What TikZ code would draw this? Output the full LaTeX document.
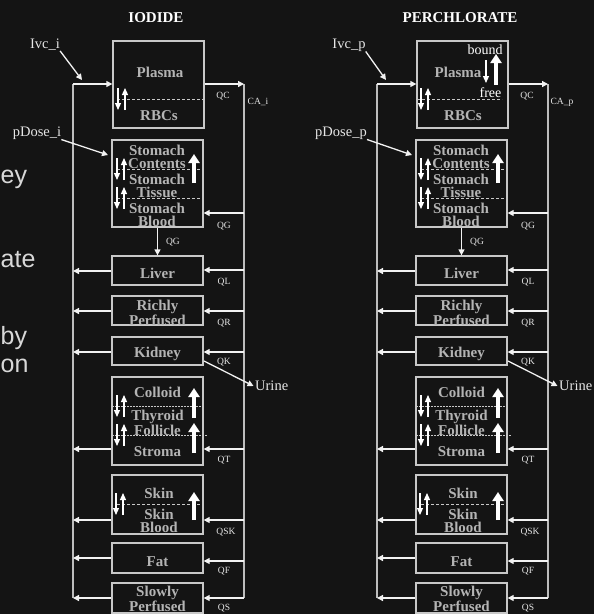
\documentclass[tikz,border=0pt]{standalone}
\usepackage{fontspec}
\setmainfont{Liberation Serif}
\newfontfamily\slidefont{Liberation Sans}
\usetikzlibrary{arrows.meta,calc}
\definecolor{bg}{HTML}{141414}
\definecolor{boxtxt}{HTML}{B4B4B4}
\definecolor{boxline}{HTML}{C8C8C8}
\definecolor{wire}{HTML}{F2F2F2}
\definecolor{busc}{HTML}{BDBDBD}
\definecolor{lbl}{HTML}{E6E6E6}
\definecolor{fragc}{HTML}{D8D8D8}

\newcommand\udpair[3]{%
  \draw[smallarr] (#1,#2) -- (#1,#3);
  \draw[smallarr] (#1+7,#3) -- (#1+7,#2);}

\newcommand\lrflow[4]{% #1 prefix, #2 node, #3 left y, #4 right y
  \coordinate (#1#2L) at (73,#3);
  \coordinate (#1#2R) at (244,#4);
  \draw[flow] (#1#2.west |- #1#2L) -- (#1#2L);
  \draw[flow] (#1#2R) -- (#1#2.east |- #1#2R);}

\newcommand\pbpkside[3]{% #1 prefix, #2 suffix, #3 title
  \node[ttl] (#1title) at (156,18) {#3};
  \coordinate (#1Ltop) at (73,84);
  \coordinate (#1Rtop) at (244,84);
  \coordinate (#1Lbot) at (73,598);
  \coordinate (#1Rbot) at (244,598);
  \draw[busline] (#1Ltop) -- (#1Lbot);
  \draw[busline] (#1Rtop) -- (#1Rbot);
  % boxes
  \node[organ,minimum height=87pt] (#1plasma) at (158.5,84.5) {};
  \node[organ,minimum height=87pt] (#1stomach) at (157.5,183.5) {};
  \node[organ,minimum height=29pt] (#1liver) at (157.5,270.5) {};
  \node[organ,minimum height=29pt] (#1rich) at (157.5,310.5) {};
  \node[organ,minimum height=28pt] (#1kidney) at (157.5,351) {};
  \node[organ,minimum height=88pt] (#1thyroid) at (157.5,421) {};
  \node[organ,minimum height=59pt] (#1skin) at (157.5,504.5) {};
  \node[organ,minimum height=30pt] (#1fat) at (157.5,558) {};
  \node[organ,minimum height=30pt] (#1slow) at (157.5,598) {};
  % box texts
  \node[otext] (#1rbc) at (159,116) {RBCs};
  \node[otext] (#1stc) at (157,157) {Stomach\\Contents};
  \node[otext] (#1stt) at (157,186) {Stomach\\Tissue};
  \node[otext] (#1stb) at (157,215) {Stomach\\Blood};
  \node[otext] (#1livt) at (157.5,273) {Liver};
  \node[otext] (#1richt) at (157.5,313) {Richly\\Perfused};
  \node[otext] (#1kidt) at (157.5,354) {Kidney};
  \node[otext] (#1colt) at (157.5,392) {Colloid};
  \node[otext] (#1thyt) at (157.5,423) {Thyroid\\Follicle};
  \node[otext] (#1strt) at (157.5,452) {Stroma};
  \node[otext] (#1skint) at (159,493) {Skin};
  \node[otext] (#1skbt) at (159,521) {Skin\\Blood};
  \node[otext] (#1fatt) at (157.5,562) {Fat};
  \node[otext] (#1slowt) at (157.5,598.5) {Slowly\\Perfused};
  % dashed separators
  \draw[sep] (117,169) -- (202,169);
  \draw[sep] (117,198) -- (202,198);
  \draw[sep,dash pattern=on 1.5pt off 1.5pt] (112,406) -- (203,406);
  \draw[sep,dash pattern=on 1.5pt off 1.5pt] (112,435) -- (208,435);
  \draw[sep] (117,504) -- (201,504);
  % exchange arrows
  \udpair{117}{158}{180}
  \udpair{117}{187}{209}
  \udpair{117}{395}{417}
  \udpair{117}{424}{446}
  \udpair{116}{493}{515}
  \draw[bigup] (194,183) -- (194,154);
  \draw[bigup] (194,418) -- (194,388);
  \draw[bigup] (194,453) -- (194,423);
  \draw[bigup] (194,520) -- (194,492);
  % flows
  \draw[flow] (#1Ltop) -- (#1plasma.west |- #1Ltop);
  \draw[flow] (#1plasma.east |- #1Rtop) -- (#1Rtop);
  \coordinate (#1stR) at (244,213);
  \draw[flow] (#1stR) -- (#1stomach.east |- #1stR);
  \draw[flow] (#1stomach.south) -- (#1liver.north);
  \lrflow{#1}{liver}{271}{270}
  \lrflow{#1}{rich}{311}{311}
  \lrflow{#1}{kidney}{352}{352}
  \lrflow{#1}{thyroid}{449}{449}
  \lrflow{#1}{skin}{520}{520}
  \lrflow{#1}{fat}{558}{561}
  \lrflow{#1}{slow}{598}{598}
  % urine
  \coordinate (#1kout) at (204,361);
  \node[inlab,anchor=west,inner sep=1.5pt] (#1urine) at (253.5,386) {Urine};
  \draw[flow] (#1kout) -- (#1urine.west);
  % flow labels
  \node[qlab] (#1qc) at (223,96) {QC};
  \node[qlab] (#1ca) at (258,102) {CA\_#2};
  \node[qlab] (#1qg) at (224,226) {QG};
  \node[qlab] (#1qgv) at (173,242) {QG};
  \node[qlab] (#1ql) at (224,282) {QL};
  \node[qlab] (#1qr) at (224,323) {QR};
  \node[qlab] (#1qk) at (224,362) {QK};
  \node[qlab] (#1qt) at (224,460) {QT};
  \node[qlab] (#1qsk) at (226,532) {QSK};
  \node[qlab] (#1qf) at (224,571) {QF};
  \node[qlab] (#1qs) at (224,608) {QS};
  % inputs
  \node[inlab] (#1ivc) at (45,45) {Ivc\_#2};
  \coordinate (#1ivcT) at (82,80);
  \draw[flow] (#1ivc.south east) -- (#1ivcT);
  \node[inlab] (#1pd) at (37,133) {pDose\_#2};
  \coordinate (#1pdT) at (108,155);
  \draw[flow] (#1pd.south east) -- (#1pdT);
}

\begin{document}
\begin{tikzpicture}[x=1pt,y=-1pt,
  organ/.style={draw=boxline,line width=1.3pt,inner sep=0pt,minimum width=91pt},
  otext/.style={font=\fontsize{15}{13.5}\selectfont\bfseries,text=boxtxt,align=center,inner sep=0pt},
  flow/.style={draw=wire,line width=1.3pt,-{Triangle[width=6pt,length=6pt]}},
  busline/.style={draw=busc,line width=1.3pt},
  qlab/.style={font=\fontsize{9.5}{10}\selectfont,text=lbl,inner sep=0pt},
  inlab/.style={font=\fontsize{14.5}{15}\selectfont,text=lbl,inner sep=0pt},
  ttl/.style={font=\fontsize{15}{15}\selectfont\bfseries,text=white},
  sep/.style={draw=boxline,line width=0.9pt,dash pattern=on 3pt off 2pt},
  bigup/.style={draw=white,line width=3.5pt,-{Triangle[width=11pt,length=9pt]}},
  smallarr/.style={draw=white,line width=1.2pt,-{Triangle[width=6pt,length=7pt]}},
  frag/.style={font=\slidefont\fontsize{25}{25}\selectfont,text=fragc,inner sep=0pt,anchor=base west},
]
\fill[bg] (0,0) rectangle (594,614);
\useasboundingbox (0,0) rectangle (594,614);

% partly hidden slide text at the left edge
\node[frag] (fey) at (0.5,183) {ey};
\node[frag] (fate) at (0.5,267) {ate};
\node[frag] (fby) at (0.5,344) {by};
\node[frag] (fon) at (0.5,372) {on};

% IODIDE
\pbpkside{I}{i}{IODIDE}
\node[otext] (Iplt) at (160,72) {Plasma};
\draw[sep] (117,99) -- (203,99);
\udpair{118}{88}{110}

% PERCHLORATE
\begin{scope}[xshift=304pt]
\pbpkside{P}{p}{PERCHLORATE}
\node[otext] (Pplt) at (154,72) {Plasma};
\node[inlab,text=white,font=\fontsize{14}{14}\selectfont] (Pbound) at (181,50) {bound};
\node[inlab,text=white,font=\fontsize{14}{14}\selectfont] (Pfree) at (186.5,93) {free};
\draw[sep] (113,99) -- (198,99);
\udpair{117}{88}{110}
\draw[smallarr] (182,60) -- (182,83);
\draw[bigup] (192,85) -- (192,54);
\end{scope}
\end{tikzpicture}
\end{document}
